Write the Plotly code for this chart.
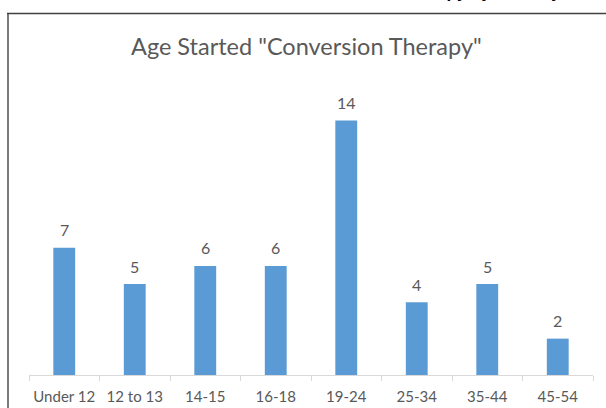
import plotly.graph_objects as go

categories = ["Under 12", "12 to 13", "14-15", "16-18", "19-24", "25-34", "35-44", "45-54"]
counts = [7, 5, 6, 6, 14, 4, 5, 2]
title_text = 'Age Started "Conversion Therapy"'
page_heading = "Conversion Therapy by Country"

W, H = 606, 408
ML, MR, MT, MB = 29, 13, 84, 33
plot_w = W - ML - MR
plot_h = H - MT - MB

def px_to_paper_x(px):
    return (px - ML) / plot_w

def px_to_paper_y(py):
    return (H - MB - py) / plot_h

grey = "#595959"
font_family = "Lato, 'Noto Sans', sans-serif"

fig = go.Figure()
fig.add_trace(go.Bar(
    x=categories, y=counts,
    marker=dict(color="#5b9bd5", line=dict(width=0)),
    width=0.31,
    hoverinfo="x+y",
))

annotations = []
for c, v in zip(categories, counts):
    annotations.append(dict(
        x=c, y=v, xref="x", yref="y", text=str(v), showarrow=False,
        yshift=18, font=dict(size=16, color=grey, family=font_family),
    ))

annotations.append(dict(
    text=title_text, xref="paper", yref="paper",
    x=px_to_paper_x(306), y=px_to_paper_y(46), xanchor="center", yanchor="middle",
    showarrow=False, font=dict(size=23.5, color=grey, family=font_family),
))
annotations.append(dict(
    text="<b>" + page_heading + "</b>", xref="paper", yref="paper",
    x=px_to_paper_x(300), y=px_to_paper_y(-8), xanchor="left", yanchor="middle",
    showarrow=False, font=dict(size=17, color="#000000", family="'Liberation Sans', Arial, sans-serif"),
))

shapes = [
    dict(type="line", xref="paper", yref="paper",
         x0=px_to_paper_x(8), x1=px_to_paper_x(8), y0=px_to_paper_y(13), y1=px_to_paper_y(420),
         line=dict(color="#7a7a7a", width=2)),
    dict(type="line", xref="paper", yref="paper",
         x0=px_to_paper_x(7), x1=px_to_paper_x(620), y0=px_to_paper_y(13.5), y1=px_to_paper_y(13.5),
         line=dict(color="#404040", width=1.5)),
]

fig.update_layout(
    width=W, height=H,
    margin=dict(l=ML, r=MR, t=MT, b=MB, pad=0),
    paper_bgcolor="white", plot_bgcolor="white",
    showlegend=False,
    annotations=annotations,
    shapes=shapes,
    xaxis=dict(
        type="category",
        showline=True, linecolor="#d9d9d9", linewidth=1,
        ticks="outside", tickson="boundaries", ticklen=5, tickcolor="#d9d9d9",
        tickangle=0, automargin=False, ticklabelstandoff=8,
        tickfont=dict(size=15, color=grey, family=font_family),
        showgrid=False, zeroline=False, fixedrange=True,
    ),
    yaxis=dict(
        range=[0, 16], visible=False, showgrid=False, zeroline=False, fixedrange=True,
        automargin=False,
    ),
)

fig.write_html(
    "out.html",
    config={"displayModeBar": False},
    post_script="document.body.style.margin='0';document.body.style.overflow='hidden';",
)
